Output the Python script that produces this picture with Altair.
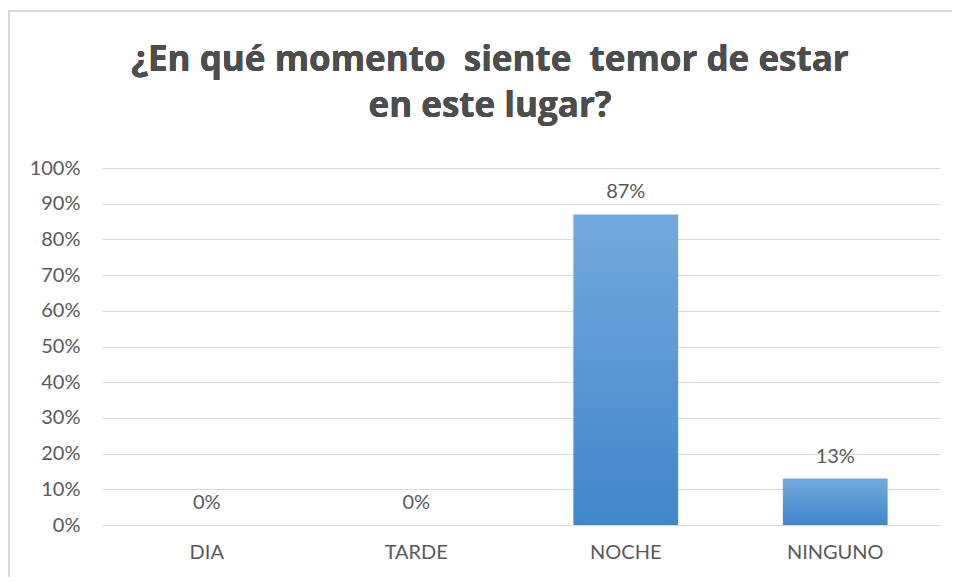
import altair as alt
import pandas as pd

categories = ["DIA", "TARDE", "NOCHE", "NINGUNO"]
values = [0.0, 0.0, 0.87, 0.13]
labels = ["0%", "0%", "87%", "13%"]
y_ticks = [0, 0.1, 0.2, 0.3, 0.4, 0.5, 0.6, 0.7, 0.8, 0.9, 1.0]
title_lines = ["¿En qué momento\u00a0 siente\u00a0 temor de estar", "en este lugar?"]

df = pd.DataFrame({"cat": categories, "val": values, "lab": labels})

FONT = "Lato"
GREY = "#595959"

x_enc = alt.X("cat:N", sort=categories, title=None,
              scale=alt.Scale(paddingInner=0.5, paddingOuter=0.25),
              axis=alt.Axis(labelAngle=0, labelFontSize=20, labelColor=GREY, labelFont=FONT,
                            labelPadding=17, ticks=False, domain=False, grid=False))
y_enc = alt.Y("val:Q", title=None,
              scale=alt.Scale(domain=[0, 1]),
              axis=alt.Axis(values=y_ticks, format=".0%", labelFontSize=20, labelColor=GREY,
                            labelFont=FONT, labelPadding=22, ticks=False, domain=False,
                            labelOverlap=False, gridColor="#d9d9d9", gridWidth=1))

bars = alt.Chart(df).mark_bar(
    color=alt.Gradient(gradient="linear",
                       stops=[alt.GradientStop(color="#74a9de", offset=0),
                              alt.GradientStop(color="#3f86ca", offset=1)],
                       x1=0, x2=0, y1=0, y2=1),
).encode(x=x_enc, y=y_enc)

text = alt.Chart(df).mark_text(baseline="bottom", dy=-12, fontSize=20, font=FONT, color=GREY).encode(
    x=x_enc, y=y_enc, text="lab:N")

border = alt.Chart(df).mark_rect(fill=None, stroke="#d9d9d9", strokeWidth=1.5).encode(
    x=alt.value(-93), x2=alt.value(900), y=alt.value(-157), y2=alt.value(500))

title = alt.Chart(df).mark_text(align="center", baseline="alphabetic", fontSize=35, font="Open Sans",
                                fontWeight="bold", color="#4d4d4d", lineHeight=46).encode(
    x=alt.value(388), y=alt.value(-97), text=alt.value(title_lines))

chart = alt.layer(border, bars, text, title).properties(
    width=838, height=357,
    autosize=alt.AutoSizeParams(type="none"),
    padding={"left": 94, "top": 160, "right": 12, "bottom": 52},
).configure_view(stroke=None)

chart.save("out.html", embed_options={"renderer": "svg", "actions": False})
